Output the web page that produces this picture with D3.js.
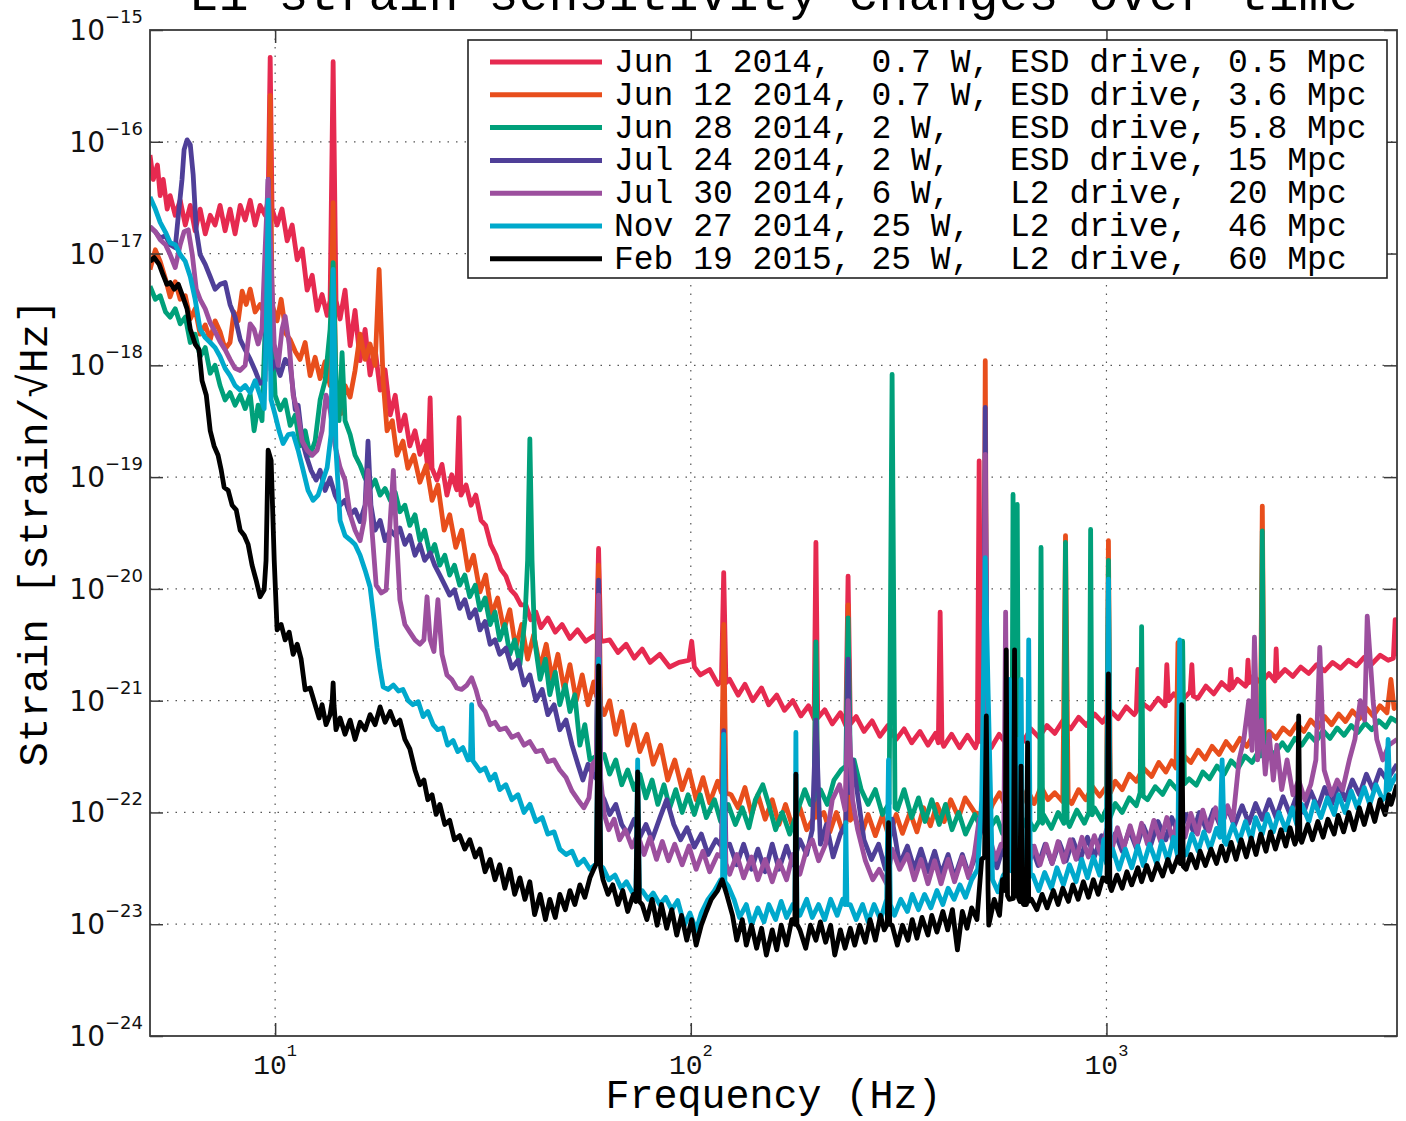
<!DOCTYPE html>
<html>
<head>
<meta charset="utf-8">
<script src="https://cdn.jsdelivr.net/npm/d3@7"></script>
<style>
  body { margin: 0; background: #fff; }
  svg { display: block; }
</style>
</head>
<body>
<div id="chart"></div>
<script>
"use strict";

// ---- tick values ----
var xTicks = [10, 100, 1000];
var xTickExp = ["1", "2", "3"];
var yTicks = [1e-15, 1e-16, 1e-17, 1e-18, 1e-19, 1e-20, 1e-21, 1e-22, 1e-23, 1e-24];
var yTickExp = ["\u221215", "\u221216", "\u221217", "\u221218", "\u221219", "\u221220", "\u221221", "\u221222", "\u221223", "\u221224"];

// ---- legend ----
var seriesLabels = [
  "Jun 1 2014,  0.7 W, ESD drive, 0.5 Mpc",
  "Jun 12 2014, 0.7 W, ESD drive, 3.6 Mpc",
  "Jun 28 2014, 2 W,   ESD drive, 5.8 Mpc",
  "Jul 24 2014, 2 W,   ESD drive, 15 Mpc",
  "Jul 30 2014, 6 W,   L2 drive,  20 Mpc",
  "Nov 27 2014, 25 W,  L2 drive,  46 Mpc",
  "Feb 19 2015, 25 W,  L2 drive,  60 Mpc"
];
var seriesColors = ["#e62a50", "#e84e1c", "#00a07a", "#4f3f98", "#9c4f9e", "#00a9cc", "#000000"];

// ---- spectra: [frequency Hz, strain/rtHz] ----
var jun01 = [[5.00,7.6e-17],[5.09,4.6e-17],[5.21,6.2e-17],[5.29,3.3e-17],[5.38,4.6e-17],[5.50,2.5e-17],[5.59,3.3e-17],[5.75,2.2e-17],[5.91,3.0e-17],[6.08,1.8e-17],[6.25,2.7e-17],[6.42,1.6e-17],[6.60,2.5e-17],[6.79,1.5e-17],[6.98,2.2e-17],[7.17,1.8e-17],[7.37,2.7e-17],[7.58,1.6e-17],[7.79,2.5e-17],[8.01,1.5e-17],[8.24,2.7e-17],[8.47,2.0e-17],[8.71,3.0e-17],[8.95,1.8e-17],[9.20,2.7e-17],[9.46,2.2e-17],[9.62,3.0e-17],[9.73,5.7e-16],[9.83,2.5e-17],[10.11,1.8e-17],[10.39,2.5e-17],[10.69,1.3e-17],[10.99,1.8e-17],[11.30,8.8e-18],[11.62,1.1e-17],[11.94,4.7e-18],[12.28,6.4e-18],[12.62,3.1e-18],[12.97,4.3e-18],[13.34,2.8e-18],[13.56,3.8e-18],[13.79,5.2e-16],[14.01,3.8e-18],[14.33,2.6e-18],[14.73,4.7e-18],[15.15,1.5e-18],[15.57,3.1e-18],[16.01,1.1e-18],[16.46,2.1e-18],[16.92,8.2e-19],[17.40,1.4e-18],[17.89,6.0e-19],[18.39,9.1e-19],[18.92,3.6e-19],[19.45,5.4e-19],[19.96,2.6e-19],[20.52,3.6e-19],[21.09,1.9e-19],[21.7,2.6e-19],[22.3,1.6e-19],[22.9,2.1e-19],[23.3,1.2e-19],[23.6,5.1e-19],[23.85,1.2e-19],[24.5,9.4e-20],[25.2,1.3e-19],[25.9,6.9e-20],[26.6,1.05e-19],[27.35,7.7e-20],[27.7,3.4e-19],[28.0,6.9e-20],[28.8,8.5e-20],[29.6,5.6e-20],[30.4,6.9e-20],[31.3,4.1e-20],[32.1,3.7e-20],[33.0,2.5e-20],[34.0,2.0e-20],[34.9,1.5e-20],[35.9,1.3e-20],[36.9,9.8e-21],[37.9,8.8e-21],[39.0,7.2e-21],[40.1,7.2e-21],[41.2,5.3e-21],[42.4,6.2e-21],[43.6,4.5e-21],[45.3,5.5e-21],[47.2,4.1e-21],[49.0,4.8e-21],[51.2,3.6e-21],[53.4,4.3e-21],[55.9,3.4e-21],[58.4,3.8e-21],[59.3,3.6e-21],[60.0,2.3e-20],[60.7,3.5e-21],[61.5,3.4e-21],[63.8,3.5e-21],[66.8,2.7e-21],[69.9,3.2e-21],[73.1,2.4e-21],[76.4,2.9e-21],[79.8,2.2e-21],[84.2,2.6e-21],[88.9,2.0e-21],[93.7,2.2e-21],[99,2.3e-21],[100.5,3.4e-21],[102,2.0e-21],[105.4,1.7e-21],[111,1.9e-21],[116.2,1.4e-21],[118.5,1.5e-21],[120,1.4e-20],[121.5,1.45e-21],[124,1.55e-21],[130,1.12e-21],[135,1.4e-21],[141,1.0e-21],[148,1.3e-21],[154,9.2e-22],[161,1.12e-21],[168,8.2e-22],[176,1.0e-21],[184,7.3e-22],[192,9.0e-22],[198,6.9e-22],[200,2.6e-20],[202,7.0e-22],[210,8.3e-22],[219,6.2e-22],[229,7.8e-22],[236,6.0e-22],[239,1.3e-20],[242,6.2e-22],[250,7.2e-22],[261,5.3e-22],[273,6.6e-22],[285,4.8e-22],[298,6.0e-22],[312,4.5e-22],[326,5.6e-22],[340,4.2e-22],[356,5.3e-22],[372,4.0e-22],[388,5.1e-22],[394,4.2e-22],[398,6.2e-21],[402,4.3e-22],[406,3.9e-22],[424,5.0e-22],[443,3.8e-22],[463,4.9e-22],[484,3.8e-22],[489,4.3e-22],[494,1.4e-19],[499,4.3e-22],[506,4.9e-22],[528,3.8e-22],[552,5.0e-22],[577,4.0e-22],[603,5.2e-22],[630,4.3e-22],[658,5.6e-22],[688,4.7e-22],[719,6.0e-22],[751,5.1e-22],[785,6.6e-22],[820,5.6e-22],[857,7.1e-22],[896,6.0e-22],[936,7.6e-22],[978,6.4e-22],[1022,8.1e-22],[1068,6.9e-22],[1116,8.8e-22],[1166,7.5e-22],[1180,8.0e-22],[1190,1.9e-21],[1200,8.4e-22],[1219,9.5e-22],[1274,8.4e-22],[1331,1.05e-21],[1385,9.0e-22],[1397,2.1e-21],[1410,1.0e-21],[1452,1.15e-21],[1517,1.0e-21],[1590,1.2e-21],[1605,2.1e-21],[1618,1.1e-21],[1660,1.05e-21],[1735,1.35e-21],[1812,1.15e-21],[1893,1.45e-21],[1975,1.25e-21],[1990,1.9e-21],[2005,1.3e-21],[2066,1.55e-21],[2160,1.35e-21],[2175,1.4e-21],[2190,2.3e-21],[2205,1.45e-21],[2255,1.65e-21],[2356,1.45e-21],[2461,1.75e-21],[2545,1.5e-21],[2560,2.9e-21],[2575,1.6e-21],[2688,1.9e-21],[2808,1.65e-21],[2934,2.0e-21],[3066,1.75e-21],[3204,2.1e-21],[3348,1.85e-21],[3499,2.2e-21],[3656,1.95e-21],[3821,2.3e-21],[3993,2.05e-21],[4173,2.45e-21],[4360,2.15e-21],[4556,2.55e-21],[4761,2.3e-21],[4900,2.4e-21],[4950,5.3e-21],[5000,2.5e-21]];

var jun12 = [[5.00,7.2e-18],[5.15,1.08e-17],[5.29,8.5e-18],[5.45,5.9e-18],[5.59,4.1e-18],[5.75,5.6e-18],[5.91,3.9e-18],[6.08,4.2e-18],[6.25,2.6e-18],[6.42,3.2e-18],[6.60,1.9e-18],[6.79,2.3e-18],[6.98,1.7e-18],[7.17,2.5e-18],[7.37,2.0e-18],[7.58,1.4e-18],[7.79,1.6e-18],[7.96,3.0e-18],[8.15,2.5e-18],[8.33,4.6e-18],[8.52,3.5e-18],[8.71,4.8e-18],[8.95,3.0e-18],[9.20,3.5e-18],[9.46,2.85e-18],[9.62,4.8e-18],[9.73,2.6e-16],[9.83,3.5e-18],[10.11,2.5e-18],[10.34,3.9e-18],[10.63,1.9e-18],[10.87,1.7e-18],[11.18,1.33e-18],[11.48,1.13e-18],[11.81,1.6e-18],[12.14,8.1e-19],[12.48,1.18e-18],[12.83,7.6e-19],[13.19,1.08e-18],[13.56,6.6e-19],[13.79,2.85e-17],[14.01,4.9e-19],[14.41,3.7e-19],[14.73,6.6e-19],[15.15,5.2e-19],[15.57,9.0e-19],[16.01,1.9e-18],[16.46,1.13e-18],[16.92,1.55e-18],[17.40,1.0e-18],[17.79,7.2e-18],[18.19,7.3e-19],[18.59,2.6e-19],[19.14,3.2e-19],[19.63,1.57e-19],[20.30,2.1e-19],[20.86,1.2e-19],[21.57,1.57e-19],[22.3,9.0e-20],[23.1,1.28e-19],[23.85,6.2e-20],[24.64,8.5e-20],[25.5,3.35e-20],[26.3,4.6e-20],[27.2,2.35e-20],[28.1,3.35e-20],[29.1,1.47e-20],[30.0,2.0e-20],[31.1,9.4e-21],[32.1,1.33e-20],[33.2,5.9e-21],[34.3,8.3e-21],[35.5,4.3e-21],[36.7,6.5e-21],[37.9,2.95e-21],[39.2,4.8e-21],[40.5,2.35e-21],[41.9,3.9e-21],[43.4,1.95e-21],[44.9,3.2e-21],[46.4,1.55e-21],[47.9,2.6e-21],[49.6,1.25e-21],[51.2,2.1e-21],[53.0,1.0e-21],[54.8,1.7e-21],[56.6,9.2e-22],[58.4,1.47e-21],[59.3,1.1e-21],[60.0,1.63e-20],[60.7,9.0e-22],[61.9,7.5e-22],[63.8,1.0e-21],[66.0,5.0e-22],[68.2,8.0e-22],[70.5,4.0e-22],[73.1,6.1e-22],[75.4,3.5e-22],[78.4,5.0e-22],[81.2,2.7e-22],[84.6,4.0e-22],[88.0,1.95e-22],[91.5,2.95e-22],[95.3,1.6e-22],[99.0,2.4e-22],[103,1.3e-22],[107,2.05e-22],[111,1.22e-22],[116,1.9e-22],[118.5,1.5e-22],[120,4.8e-21],[121.5,1.5e-22],[125,1.44e-22],[130,1.1e-22],[135,1.67e-22],[140,9.6e-23],[145,1.44e-22],[151,8.7e-23],[157,1.3e-22],[163,7.8e-23],[169,1.18e-22],[176,7.3e-23],[183,1.1e-22],[190,7.0e-23],[198,9.0e-23],[200,2.85e-21],[202,9.0e-23],[209,1.0e-22],[216,6.7e-23],[224,1.0e-22],[232,6.7e-23],[236,8.0e-23],[239,7.2e-21],[242,8.5e-23],[247,9.6e-23],[257,6.2e-23],[267,9.6e-23],[278,6.2e-23],[289,9.4e-23],[300,6.0e-23],[312,9.6e-23],[323,6.5e-23],[337,1.0e-22],[350,6.7e-23],[363,1.1e-22],[377,7.6e-23],[391,1.18e-22],[407,8.3e-23],[422,1.3e-22],[441,9.0e-23],[457,1.35e-22],[482,1.0e-22],[505,9.5e-23],[511,1.1e-18],[517,9.0e-23],[532,1.18e-22],[553,1.5e-22],[574,1.1e-22],[596,1.5e-22],[620,1.1e-22],[645,1.6e-22],[670,1.2e-22],[696,1.7e-22],[723,1.3e-22],[751,1.5e-22],[785,1.25e-22],[797,3.0e-20],[809,1.3e-22],[825,1.2e-22],[857,1.6e-22],[891,1.3e-22],[926,1.7e-22],[963,1.4e-22],[1000,1.7e-22],[1011,2.7e-20],[1022,1.5e-22],[1050,1.9e-22],[1091,1.6e-22],[1135,2.2e-22],[1180,1.9e-22],[1226,2.5e-22],[1285,2.1e-22],[1336,2.8e-22],[1390,2.3e-22],[1436,2.9e-22],[1470,2.5e-22],[1486,3.3e-21],[1502,2.6e-22],[1538,3.2e-22],[1596,2.8e-22],[1662,3.6e-22],[1727,3.0e-22],[1795,3.9e-22],[1866,3.3e-22],[1940,4.3e-22],[2015,3.6e-22],[2095,4.6e-22],[2176,3.9e-22],[2262,5.0e-22],[2345,4.2e-22],[2371,5.5e-20],[2397,4.4e-22],[2463,5.3e-22],[2559,4.6e-22],[2660,5.7e-22],[2765,5.0e-22],[2872,6.2e-22],[2985,5.3e-22],[3100,6.7e-22],[3225,5.7e-22],[3350,7.2e-22],[3480,6.1e-22],[3620,7.6e-22],[3760,6.5e-22],[3905,8.1e-22],[4060,6.9e-22],[4220,8.6e-22],[4380,7.3e-22],[4550,9.0e-22],[4730,7.8e-22],[4835,1.55e-21],[4920,8.5e-22],[5000,9.4e-22]];

var jun28 = [[5.00,5.1e-18],[5.15,3.9e-18],[5.29,4.2e-18],[5.45,3.0e-18],[5.59,2.7e-18],[5.75,3.2e-18],[5.91,2.35e-18],[6.08,2.7e-18],[6.25,1.6e-18],[6.42,1.9e-18],[6.60,1.2e-18],[6.79,1.44e-18],[6.98,8.5e-19],[7.17,1.0e-18],[7.37,6.6e-19],[7.58,4.9e-19],[7.79,5.7e-19],[8.01,4.4e-19],[8.24,5.4e-19],[8.47,4.1e-19],[8.71,5.5e-19],[8.90,2.6e-19],[9.10,4.4e-19],[9.30,3.2e-19],[9.51,3.9e-18],[9.62,1.63e-17],[9.78,3.2e-18],[10.0,5.4e-19],[10.28,4.0e-19],[10.57,4.9e-19],[10.87,2.9e-19],[11.18,3.6e-19],[11.48,1.9e-19],[11.81,2.6e-19],[12.14,1.57e-19],[12.48,2.1e-19],[12.83,4.9e-19],[13.19,7.3e-19],[13.56,2.1e-18],[13.79,8.3e-18],[14.01,7.3e-19],[14.25,3.2e-19],[14.49,1.3e-18],[14.73,3.2e-19],[15.15,2.4e-19],[15.57,1.57e-19],[16.01,1.28e-19],[16.46,9.8e-20],[16.92,7.9e-20],[17.40,9.4e-20],[17.89,6.9e-20],[18.39,7.9e-20],[18.92,6.2e-20],[19.45,7.3e-20],[19.96,4.9e-20],[20.52,5.6e-20],[21.09,3.7e-20],[21.7,4.6e-20],[22.3,2.7e-20],[22.9,3.35e-20],[23.6,2.0e-20],[24.2,2.5e-20],[24.9,1.63e-20],[25.6,2.0e-20],[26.3,1.33e-20],[27.0,1.63e-20],[27.8,1.08e-20],[28.6,1.33e-20],[29.4,8.5e-21],[30.3,1.08e-20],[31.1,6.5e-21],[32.0,8.3e-21],[32.9,4.8e-21],[33.8,6.2e-21],[34.7,3.5e-21],[35.7,4.8e-21],[36.7,2.6e-21],[37.7,3.5e-21],[38.8,2.1e-21],[39.9,5.3e-21],[40.5,1.8e-20],[41.0,2.2e-19],[41.5,1.8e-20],[42.1,3.5e-21],[43.4,1.55e-21],[44.7,2.35e-21],[45.8,1.13e-21],[47.2,1.8e-21],[48.4,9.2e-22],[49.9,1.38e-21],[51.2,8.0e-22],[52.6,1.13e-21],[54.1,4.0e-22],[55.6,6.1e-22],[57.2,2.95e-22],[59.3,3.2e-22],[60.0,6.5e-21],[60.7,3.2e-22],[61.9,3.3e-22],[63.8,2.2e-22],[66.0,2.95e-22],[68.2,1.77e-22],[70.5,2.4e-22],[73.1,1.6e-22],[75.4,2.2e-22],[78.0,1.35e-22],[80.7,1.95e-22],[83.3,1.18e-22],[86.2,1.77e-22],[89.0,1.1e-22],[92.0,1.6e-22],[95.3,1.0e-22],[98.5,1.44e-22],[102,9.6e-23],[105.4,1.44e-22],[109,9.0e-23],[114,1.3e-22],[118,8.3e-23],[123,1.18e-22],[128,7.8e-23],[133,1.1e-22],[138,7.3e-23],[143,1.3e-22],[149,1.77e-22],[154,1.18e-22],[160,7.0e-23],[166,1.0e-22],[173,6.4e-23],[180,1.0e-22],[188,1.6e-22],[194,1.18e-22],[198,1.3e-22],[200,3.35e-21],[202,1.4e-22],[205,1.6e-22],[213,1.18e-22],[221,1.95e-22],[230,2.4e-22],[236,2.6e-22],[239,5.5e-21],[242,2.7e-22],[247,2.95e-22],[257,1.6e-22],[267,1.18e-22],[278,1.6e-22],[289,9.6e-23],[300,1.2e-22],[305,8.3e-19],[310,1.1e-22],[314,1.06e-22],[326,1.6e-22],[340,9.0e-23],[353,1.35e-22],[366,8.3e-23],[380,1.3e-22],[396,7.8e-23],[410,1.18e-22],[425,7.0e-23],[441,1.0e-22],[458,6.4e-23],[482,9.6e-23],[501,7.0e-23],[506,8.0e-23],[511,1.15e-19],[516,8.5e-23],[521,7.0e-23],[545,9.0e-23],[562,6.5e-23],[584,8.5e-23],[592,7.0e-23],[596,7.0e-20],[601,8.0e-23],[606,7.5e-23],[610,5.7e-20],[615,7.0e-23],[620,6.8e-23],[645,9.0e-23],[670,7.0e-23],[690,8.5e-23],[696,2.35e-20],[702,8.0e-23],[706,9.5e-23],[737,7.2e-23],[765,1.0e-22],[790,8.0e-23],[797,2.6e-20],[804,8.5e-23],[815,7.5e-23],[849,1.05e-22],[885,8.0e-23],[908,1.0e-22],[916,3.4e-20],[924,9.5e-23],[935,1.1e-22],[974,8.5e-23],[1002,1.1e-22],[1011,1.8e-20],[1020,9.0e-23],[1050,1.2e-22],[1091,1.0e-22],[1135,1.35e-22],[1180,1.15e-22],[1205,1.5e-22],[1215,4.6e-21],[1225,1.4e-22],[1255,1.3e-22],[1310,1.7e-22],[1365,1.45e-22],[1420,1.9e-22],[1480,1.6e-22],[1510,1.7e-22],[1525,3.4e-21],[1540,1.8e-22],[1580,2.0e-22],[1645,1.75e-22],[1705,2.3e-22],[1770,2.0e-22],[1845,2.6e-22],[1920,2.2e-22],[1995,2.9e-22],[2075,2.5e-22],[2155,3.2e-22],[2240,2.8e-22],[2320,3.5e-22],[2350,3.2e-22],[2371,3.3e-20],[2395,3.3e-22],[2440,3.8e-22],[2530,3.3e-22],[2650,4.2e-22],[2730,3.6e-22],[2840,4.6e-22],[2950,4.0e-22],[3070,5.0e-22],[3190,4.3e-22],[3320,5.4e-22],[3450,4.6e-22],[3590,5.7e-22],[3730,4.9e-22],[3880,6.0e-22],[4030,5.2e-22],[4190,6.3e-22],[4350,5.5e-22],[4520,6.6e-22],[4700,5.8e-22],[4840,7.0e-22],[5000,6.5e-22]];

var jul24 = [[5.00,1.74e-17],[5.15,1.57e-17],[5.29,1.38e-17],[5.45,1.44e-17],[5.59,1.2e-17],[5.75,1.13e-17],[5.85,2.2e-17],[5.97,4.6e-17],[6.04,8.5e-17],[6.14,1.04e-16],[6.25,9.4e-17],[6.35,5.1e-17],[6.46,1.63e-17],[6.60,9.8e-18],[6.79,8.0e-18],[6.98,6.2e-18],[7.17,4.8e-18],[7.37,5.3e-18],[7.58,5.5e-18],[7.79,3.5e-18],[8.01,2.7e-18],[8.24,1.7e-18],[8.47,1.38e-18],[8.71,1.13e-18],[8.95,9.0e-19],[9.20,6.9e-19],[9.46,7.3e-19],[9.62,4.6e-17],[9.78,9.0e-19],[10.0,1.08e-18],[10.28,8.1e-19],[10.57,1.13e-18],[10.87,1.0e-18],[11.18,4.0e-19],[11.36,4.4e-19],[11.62,2.1e-19],[11.87,1.57e-19],[12.2,1.15e-19],[12.55,9.4e-20],[12.83,1.15e-19],[13.19,7.6e-20],[13.56,9.8e-20],[13.94,6.9e-20],[14.33,5.6e-20],[14.73,6.2e-20],[15.15,4.6e-20],[15.57,5.1e-20],[16.01,4.0e-20],[16.46,5.6e-20],[16.73,2.1e-19],[17.0,5.6e-20],[17.40,3.35e-20],[17.89,4.1e-20],[18.39,2.7e-20],[18.92,3.35e-20],[19.45,3.0e-20],[19.96,3.5e-20],[20.52,2.5e-20],[21.09,3.0e-20],[21.7,2.0e-20],[22.3,2.5e-20],[22.9,1.8e-20],[23.6,2.1e-20],[24.2,1.63e-20],[24.9,1.33e-20],[25.6,1.08e-20],[26.3,8.8e-21],[27.0,9.8e-21],[27.8,6.7e-21],[28.6,8.0e-21],[29.4,5.5e-21],[30.3,6.5e-21],[31.1,4.3e-21],[32.0,5.1e-21],[32.9,3.2e-21],[33.8,3.5e-21],[34.7,2.6e-21],[35.9,2.95e-21],[37.1,1.95e-21],[38.4,2.3e-21],[39.7,1.38e-21],[41.0,1.7e-21],[42.4,1.0e-21],[43.9,1.26e-21],[45.3,7.5e-22],[46.9,9.2e-22],[48.4,5.5e-22],[50.1,6.7e-22],[51.8,4.0e-22],[53.5,2.7e-22],[55.0,1.95e-22],[56.6,2.7e-22],[58.0,2.2e-22],[59.3,2.0e-22],[60.0,1.2e-20],[60.7,1.5e-22],[61.9,1.3e-22],[63.8,9.6e-23],[66.0,1.18e-22],[68.2,7.8e-23],[70.5,6.4e-23],[73.1,8.7e-23],[75.4,6.0e-23],[78.0,7.8e-23],[80.7,5.7e-23],[84.2,8.9e-23],[87.5,1.3e-22],[91.0,7.8e-23],[94.5,5.7e-23],[98.0,7.3e-23],[102,4.9e-23],[106,6.4e-23],[110,4.2e-23],[115,5.7e-23],[118.5,5.0e-23],[120,5.4e-22],[121.5,5.0e-23],[124,5.2e-23],[129,3.4e-23],[134,5.2e-23],[140,3.1e-23],[145,4.7e-23],[151,2.95e-23],[157,5.2e-23],[163,3.1e-23],[170,5.0e-23],[176,3.4e-23],[183,5.7e-23],[190,4.2e-23],[196,7.0e-23],[200,6.7e-22],[205,5.2e-23],[212,7.8e-23],[220,4.0e-23],[229,6.4e-23],[236,8.0e-23],[239,2.35e-21],[242,1.5e-22],[245,2.95e-22],[251,1.6e-22],[261,5.7e-23],[272,3.8e-23],[283,5.2e-23],[294,3.1e-23],[305,8.7e-23],[318,3.4e-23],[332,5.0e-23],[345,3.1e-23],[358,4.7e-23],[372,2.95e-23],[386,4.5e-23],[400,2.8e-23],[416,4.2e-23],[431,2.6e-23],[450,4.2e-23],[466,2.8e-23],[481,3.8e-23],[492,5.7e-23],[505,8.0e-23],[511,4.2e-19],[517,7.0e-23],[521,5.2e-23],[545,3.2e-23],[562,4.7e-23],[587,3.1e-23],[610,5.2e-23],[635,3.2e-23],[660,5.0e-23],[685,3.35e-23],[712,5.2e-23],[740,3.5e-23],[770,5.4e-23],[800,3.7e-23],[830,5.7e-23],[865,3.8e-23],[900,6.0e-23],[935,4.0e-23],[974,6.2e-23],[1011,4.1e-23],[1050,6.5e-23],[1091,4.5e-23],[1135,7.0e-23],[1180,4.8e-23],[1226,7.6e-23],[1280,5.2e-23],[1330,8.3e-23],[1390,5.7e-23],[1436,9.0e-23],[1495,6.2e-23],[1555,9.6e-23],[1620,6.7e-23],[1673,1.0e-22],[1740,7.0e-23],[1810,1.06e-22],[1885,7.3e-23],[1955,1.1e-22],[2030,7.6e-23],[2120,1.15e-22],[2200,8.0e-23],[2285,1.2e-22],[2371,8.7e-23],[2463,1.3e-22],[2559,9.0e-23],[2660,1.38e-22],[2765,9.6e-23],[2872,1.44e-22],[2985,1.0e-22],[3100,1.55e-22],[3225,1.1e-22],[3350,1.67e-22],[3480,1.18e-22],[3620,1.77e-22],[3760,1.3e-22],[3905,1.95e-22],[4060,1.44e-22],[4220,2.2e-22],[4380,1.6e-22],[4550,2.4e-22],[4730,1.95e-22],[5000,2.7e-22]];

var jul30 = [[5.00,1.74e-17],[5.15,1.57e-17],[5.29,1.33e-17],[5.45,1.2e-17],[5.59,9.8e-18],[5.75,7.5e-18],[5.91,1.2e-17],[6.04,1.57e-17],[6.18,1.63e-17],[6.32,9.8e-18],[6.46,4.8e-18],[6.60,3.9e-18],[6.79,3.2e-18],[6.98,2.4e-18],[7.17,2.0e-18],[7.37,1.63e-18],[7.58,1.38e-18],[7.79,1.13e-18],[8.01,9.4e-19],[8.24,9.0e-19],[8.47,1.0e-18],[8.71,2.35e-18],[8.90,2.1e-18],[9.10,1.55e-18],[9.30,2.1e-18],[9.46,1.08e-17],[9.62,4.6e-17],[9.78,8.8e-18],[9.95,1.55e-18],[10.17,1.0e-18],[10.39,2.1e-18],[10.57,2.75e-18],[10.81,1.55e-18],[11.05,5.4e-19],[11.30,4.0e-19],[11.62,2.1e-19],[11.94,1.74e-19],[12.28,1.57e-19],[12.62,1.74e-19],[12.97,2.6e-19],[13.26,5.4e-19],[13.56,4.0e-19],[13.94,1.9e-19],[14.33,1.22e-19],[14.73,9.4e-20],[15.15,4.6e-20],[15.57,3.35e-20],[16.01,2.7e-20],[16.37,4.1e-20],[16.73,1.15e-19],[17.1,3.35e-20],[17.5,1.08e-20],[18.0,9.2e-21],[18.5,9.8e-21],[18.92,4.1e-20],[19.25,1.15e-19],[19.55,3.35e-20],[19.96,8.0e-21],[20.52,4.8e-21],[21.09,4.1e-21],[21.7,3.5e-21],[22.3,3.2e-21],[22.8,3.5e-21],[23.2,8.5e-21],[23.6,3.5e-21],[24.1,2.75e-21],[24.64,8.0e-21],[25.2,2.6e-21],[25.9,1.7e-21],[26.6,1.55e-21],[27.35,1.3e-21],[28.1,1.26e-21],[28.94,1.38e-21],[29.7,1.6e-21],[30.4,1.26e-21],[31.1,9.2e-22],[32.0,8.0e-22],[32.9,6.1e-22],[33.8,6.4e-22],[34.7,5.5e-22],[35.9,5.7e-22],[37.1,4.7e-22],[38.4,5.0e-22],[39.7,4.0e-22],[41.0,4.3e-22],[42.4,3.5e-22],[43.9,3.6e-22],[45.3,2.85e-22],[46.9,2.95e-22],[48.4,2.4e-22],[50.1,2.05e-22],[51.8,1.55e-22],[53.5,1.3e-22],[55.3,1.1e-22],[56.9,1.35e-22],[58.0,2.7e-22],[59.3,3.0e-22],[60.0,8.8e-21],[60.7,2.0e-22],[61.9,9.6e-23],[63.5,7.0e-23],[65.4,8.7e-23],[67.4,5.7e-23],[69.6,7.0e-23],[72.2,4.9e-23],[74.5,6.4e-23],[77.2,4.2e-23],[79.8,6.0e-23],[82.7,3.8e-23],[85.4,5.5e-23],[88.4,3.7e-23],[91.5,5.2e-23],[95.3,3.4e-23],[99,5.0e-23],[103,3.1e-23],[107,4.5e-23],[111,2.95e-23],[116,4.2e-23],[118.5,4.0e-23],[120,2.4e-22],[121.5,3.5e-23],[124,2.8e-23],[129,4.2e-23],[134,2.6e-23],[140,4.0e-23],[145,2.5e-23],[151,3.8e-23],[157,2.4e-23],[163,3.7e-23],[170,2.5e-23],[176,4.2e-23],[183,2.8e-23],[190,4.7e-23],[196,5.7e-23],[203,3.7e-23],[211,5.2e-23],[219,1.3e-22],[228,1.77e-22],[235,1.06e-22],[239,1.0e-21],[245,1.3e-22],[252,7.0e-23],[263,3.7e-23],[274,2.5e-23],[284,3.1e-23],[296,2.3e-23],[305,4.7e-23],[318,3.1e-23],[332,4.2e-23],[345,2.5e-23],[358,3.8e-23],[372,2.3e-23],[386,3.7e-23],[400,2.3e-23],[416,3.8e-23],[431,2.4e-23],[450,4.0e-23],[466,2.6e-23],[481,4.2e-23],[494,8.7e-23],[505,1.0e-22],[511,1.6e-19],[517,9.0e-23],[521,6.4e-23],[541,3.8e-23],[558,5.2e-23],[566,5.0e-23],[572,6.2e-21],[578,5.0e-23],[587,4.7e-23],[606,3.0e-23],[625,4.8e-23],[646,3.2e-23],[670,5.0e-23],[692,3.4e-23],[716,5.2e-23],[740,3.5e-23],[765,5.5e-23],[790,3.6e-23],[818,5.7e-23],[845,3.8e-23],[873,6.0e-23],[905,4.0e-23],[935,6.2e-23],[968,4.2e-23],[1000,7.0e-23],[1028,4.5e-23],[1063,7.3e-23],[1100,4.8e-23],[1140,7.6e-23],[1180,5.0e-23],[1215,8.0e-23],[1255,5.2e-23],[1300,8.5e-23],[1350,5.5e-23],[1397,9.0e-23],[1440,5.7e-23],[1495,9.4e-23],[1545,6.0e-23],[1596,9.8e-23],[1655,6.4e-23],[1705,1.05e-22],[1765,6.8e-23],[1830,1.1e-22],[1890,7.2e-23],[1955,1.15e-22],[2015,8.5e-23],[2085,2.95e-22],[2140,4.5e-22],[2200,1.0e-21],[2240,3.6e-22],[2270,3.7e-21],[2310,2.95e-22],[2360,6.7e-22],[2410,2.2e-22],[2463,5.0e-22],[2520,1.95e-22],[2570,4.0e-22],[2640,1.6e-22],[2720,2.95e-22],[2810,1.44e-22],[2900,1.95e-22],[3000,1.3e-22],[3100,1.77e-22],[3190,2.95e-22],[3260,3.0e-21],[3340,2.4e-22],[3480,1.44e-22],[3590,1.95e-22],[3700,1.6e-22],[3840,2.95e-22],[3960,4.5e-22],[4080,1.0e-21],[4180,6.7e-22],[4240,5.7e-21],[4380,1.0e-21],[4470,4.5e-22],[4620,2.95e-22],[4780,4.0e-22],[5000,4.5e-22]];

var nov27 = [[5.00,3.2e-17],[5.15,2.5e-17],[5.29,1.9e-17],[5.45,1.55e-17],[5.59,1.25e-17],[5.75,1.2e-17],[5.91,9.8e-18],[6.08,8.5e-18],[6.25,6.2e-18],[6.42,3.9e-18],[6.60,2.1e-18],[6.79,1.77e-18],[6.98,1.6e-18],[7.17,1.44e-18],[7.37,1.2e-18],[7.58,9.4e-19],[7.79,8.1e-19],[8.01,6.6e-19],[8.24,6.0e-19],[8.47,6.6e-19],[8.71,5.7e-19],[8.95,7.3e-19],[9.20,5.4e-19],[9.41,4.1e-19],[9.52,2.0e-18],[9.62,3.0e-17],[9.72,2.0e-18],[9.78,4.9e-19],[10.0,3.6e-19],[10.22,2.6e-19],[10.45,2.0e-19],[10.75,2.4e-19],[11.05,2.45e-19],[11.36,1.74e-19],[11.68,1.15e-19],[12.0,7.6e-20],[12.34,6.2e-20],[12.69,6.9e-20],[13.04,9.4e-20],[13.34,1.22e-19],[13.63,2.4e-19],[13.79,7.2e-18],[14.01,1.74e-19],[14.33,4.1e-20],[14.73,3.0e-20],[15.15,2.75e-20],[15.57,2.5e-20],[16.01,2.0e-20],[16.46,1.47e-20],[16.92,1.04e-20],[17.3,5.3e-21],[17.59,3.0e-21],[17.89,1.9e-21],[18.19,1.33e-21],[18.7,1.26e-21],[19.25,1.38e-21],[19.8,1.22e-21],[20.3,1.26e-21],[20.9,1.0e-21],[21.45,9.2e-22],[22.1,9.8e-22],[22.7,7.2e-22],[23.3,8.0e-22],[24.0,6.1e-22],[24.6,5.5e-22],[25.3,5.7e-22],[26.0,4.0e-22],[26.8,4.4e-22],[27.5,3.5e-22],[28.3,3.8e-22],[29.1,2.95e-22],[29.5,3.0e-22],[29.7,9.2e-22],[29.9,2.9e-22],[30.3,2.7e-22],[31.1,2.35e-22],[32.0,2.5e-22],[32.9,1.95e-22],[33.8,2.2e-22],[34.7,1.6e-22],[35.9,1.77e-22],[37.1,1.3e-22],[38.4,1.44e-22],[39.7,1.0e-22],[41.0,1.18e-22],[42.4,8.3e-23],[43.9,9.0e-23],[45.3,6.4e-23],[46.9,6.7e-23],[48.4,4.7e-23],[50.1,4.2e-23],[51.8,4.5e-23],[53.5,3.4e-23],[55.3,3.8e-23],[57.2,3.1e-23],[59.3,3.5e-23],[60.0,2.35e-21],[60.7,3.3e-23],[61.5,3.2e-23],[63.5,2.5e-23],[65.7,2.75e-23],[68.0,2.1e-23],[70.0,2.4e-23],[72.8,1.85e-23],[73.8,2.0e-23],[74.5,2.95e-22],[75.2,2.0e-23],[76.4,2.0e-23],[79.0,1.67e-23],[81.2,1.9e-23],[84.2,1.5e-23],[87.0,1.74e-23],[90.0,1.35e-23],[93.0,1.63e-23],[96.5,9.8e-24],[99.5,1.26e-23],[103,8.8e-24],[106,1.26e-23],[110,1.67e-23],[114,2.0e-23],[118,2.5e-23],[119.2,2.4e-23],[120,5.0e-22],[120.8,2.4e-23],[123,2.2e-23],[127,1.67e-23],[131,1.15e-23],[136,1.5e-23],[140,9.8e-24],[145,1.4e-23],[150,1.05e-23],[154,1.5e-23],[160,1.1e-23],[165,1.6e-23],[170,1.15e-23],[176,1.5e-23],[178,1.4e-23],[179,5.2e-22],[180,1.4e-23],[183,1.2e-23],[190,1.67e-23],[196,1.15e-23],[203,1.5e-23],[210,1.1e-23],[217,1.67e-23],[225,1.2e-23],[232,1.67e-23],[235,1.5e-23],[236,8.1e-23],[237.5,1.5e-23],[242,1.5e-23],[250,1.1e-23],[259,1.5e-23],[267,1.05e-23],[276,1.5e-23],[286,1.1e-23],[296,1.67e-23],[299,2.95e-22],[302,1.5e-23],[309,1.2e-23],[320,1.67e-23],[332,1.3e-23],[341,1.85e-23],[353,1.35e-23],[365,1.85e-23],[378,1.4e-23],[391,2.0e-23],[404,1.5e-23],[416,2.1e-23],[430,1.67e-23],[444,2.25e-23],[458,1.74e-23],[474,2.5e-23],[490,3.1e-23],[501,1.3e-22],[511,1.9e-20],[519,1.25e-21],[532,2.5e-23],[548,1.95e-23],[565,2.75e-23],[578,3.0e-23],[584,1.55e-21],[590,3.0e-23],[596,3.1e-23],[604,3.2e-23],[612,4.5e-22],[618,3.0e-23],[623,1.55e-21],[629,2.8e-23],[636,2.5e-23],[645,2.8e-23],[650,3.5e-21],[656,2.7e-23],[665,2.75e-23],[687,2.0e-23],[710,2.9e-23],[737,2.1e-23],[760,3.2e-23],[788,2.25e-23],[815,3.4e-23],[845,2.4e-23],[872,3.8e-23],[900,2.6e-23],[930,4.0e-23],[963,2.75e-23],[985,5.7e-23],[1000,3.5e-23],[1011,1.22e-20],[1022,4.0e-23],[1035,4.7e-23],[1072,3.1e-23],[1110,4.7e-23],[1150,3.2e-23],[1190,5.0e-23],[1226,3.35e-23],[1270,5.2e-23],[1320,3.5e-23],[1358,5.5e-23],[1405,3.7e-23],[1450,6.0e-23],[1485,4.0e-23],[1500,3.5e-21],[1515,4.0e-23],[1555,4.2e-23],[1605,6.4e-23],[1662,4.5e-23],[1715,6.7e-23],[1775,4.7e-23],[1840,7.2e-23],[1875,6.0e-23],[1898,2.95e-22],[1920,5.5e-23],[1940,5.2e-23],[2015,7.8e-23],[2085,5.5e-23],[2160,8.3e-23],[2230,5.7e-23],[2285,9.0e-23],[2370,6.4e-23],[2440,9.6e-23],[2520,6.7e-23],[2600,1.0e-22],[2700,7.0e-23],[2800,1.1e-22],[2870,7.8e-23],[2950,1.18e-22],[3070,8.3e-23],[3160,1.25e-22],[3280,9.0e-23],[3400,1.35e-22],[3530,9.6e-23],[3620,1.44e-22],[3750,1.0e-22],[3880,1.55e-22],[4010,1.1e-22],[4170,1.67e-22],[4300,1.18e-22],[4450,1.77e-22],[4620,1.3e-22],[4700,1.4e-22],[4760,4.5e-22],[4800,1.6e-22],[4840,1.77e-22],[5000,2.2e-22]];

var feb19 = [[5.00,8.5e-18],[5.12,9.2e-18],[5.26,8.0e-18],[5.37,6.5e-18],[5.49,5.3e-18],[5.59,5.5e-18],[5.72,4.8e-18],[5.85,5.3e-18],[6.00,4.1e-18],[6.14,3.2e-18],[6.25,2.1e-18],[6.42,1.55e-18],[6.56,1.38e-18],[6.67,7.3e-19],[6.83,5.4e-19],[6.98,2.6e-19],[7.13,1.9e-19],[7.29,1.57e-19],[7.42,1.15e-19],[7.54,8.1e-20],[7.71,7.6e-20],[7.88,5.6e-20],[8.06,5.1e-20],[8.24,3.35e-20],[8.43,3.0e-20],[8.61,2.5e-20],[8.80,1.63e-20],[9.00,1.2e-20],[9.20,8.5e-21],[9.41,9.8e-21],[9.51,1.8e-20],[9.62,1.74e-19],[9.78,1.41e-19],[9.95,1.8e-20],[10.11,4.3e-21],[10.34,4.8e-21],[10.57,3.5e-21],[10.81,4.1e-21],[11.05,2.6e-21],[11.30,3.2e-21],[11.55,2.35e-21],[11.81,1.25e-21],[12.14,1.3e-21],[12.48,9.2e-22],[12.76,7.0e-22],[12.97,9.2e-22],[13.26,6.1e-22],[13.56,7.5e-22],[13.72,1.0e-21],[13.79,1.44e-21],[13.86,9.0e-22],[14.01,5.5e-22],[14.33,7.0e-22],[14.73,5.0e-22],[15.15,6.7e-22],[15.57,4.5e-22],[16.01,6.4e-22],[16.46,5.5e-22],[16.92,7.5e-22],[17.40,6.1e-22],[17.89,8.8e-22],[18.39,6.4e-22],[18.92,8.0e-22],[19.45,6.1e-22],[19.96,6.7e-22],[20.52,4.5e-22],[21.09,3.7e-22],[21.7,2.4e-22],[22.3,1.77e-22],[22.8,1.95e-22],[23.3,1.3e-22],[23.85,1.44e-22],[24.4,9.6e-23],[24.9,1.18e-22],[25.6,7.8e-23],[26.3,8.5e-23],[27.0,5.7e-23],[27.8,6.2e-23],[28.6,4.7e-23],[29.4,5.7e-23],[30.3,4.0e-23],[31.1,4.7e-23],[32.0,2.95e-23],[32.9,3.8e-23],[33.8,2.5e-23],[34.7,3.4e-23],[35.7,2.1e-23],[36.7,3.1e-23],[37.7,1.85e-23],[38.8,2.6e-23],[39.9,1.67e-23],[41.0,2.4e-23],[42.1,1.22e-23],[43.4,1.85e-23],[44.7,1.1e-23],[45.8,1.67e-23],[47.2,1.15e-23],[48.4,1.85e-23],[49.9,1.35e-23],[51.2,2.0e-23],[52.6,1.5e-23],[54.1,2.25e-23],[55.6,1.74e-23],[57.2,2.6e-23],[58.4,3.1e-23],[59.3,3.5e-23],[60.0,2.05e-21],[60.7,3.2e-23],[61.5,2.5e-23],[63.2,1.85e-23],[64.9,2.25e-23],[66.8,1.5e-23],[68.6,2.0e-23],[70.5,1.3e-23],[72.8,1.85e-23],[73.8,1.6e-23],[74.5,2.3e-22],[75.2,1.6e-23],[76.4,1.5e-23],[78.4,1.1e-23],[80.7,1.67e-23],[83.0,9.8e-24],[85.0,1.5e-23],[87.5,9.2e-24],[90.0,1.35e-23],[92.5,8.0e-24],[95.0,1.2e-23],[97.8,7.2e-24],[100.5,1.1e-23],[103,6.5e-24],[106,9.8e-24],[109,1.3e-23],[112,1.67e-23],[116,2.0e-23],[119,2.5e-23],[122,1.85e-23],[126,1.2e-23],[129,7.2e-24],[133,1.1e-23],[136,6.5e-24],[140,9.8e-24],[144,6.1e-24],[148,9.2e-24],[152,5.3e-24],[157,8.9e-24],[161,5.9e-24],[165,9.8e-24],[170,6.5e-24],[175,1.1e-23],[178,1.0e-23],[179,2.2e-22],[180,1.0e-23],[183,8.9e-24],[189,6.1e-24],[194,9.8e-24],[200,7.2e-24],[205,1.05e-23],[211,6.9e-24],[217,9.8e-24],[222,5.3e-24],[229,8.9e-24],[235,6.1e-24],[242,9.2e-24],[248,6.5e-24],[255,9.8e-24],[263,6.9e-24],[270,1.1e-23],[278,7.2e-24],[286,1.2e-23],[292,8.9e-24],[297,1.0e-23],[299,8.1e-23],[301,1.0e-23],[305,9.8e-24],[314,6.5e-24],[323,9.8e-24],[333,7.2e-24],[341,1.1e-23],[350,7.5e-24],[360,1.15e-23],[372,8.0e-24],[380,1.2e-23],[391,8.5e-24],[404,1.3e-23],[415,8.9e-24],[426,1.35e-23],[438,5.9e-24],[450,1.3e-23],[462,9.2e-24],[474,1.4e-23],[488,1.1e-23],[501,3.8e-23],[509,4.0e-23],[514,7.3e-22],[519,2.0e-23],[521,9.8e-24],[537,1.67e-23],[553,1.2e-23],[562,2.5e-23],[570,2.0e-23],[574,2.85e-21],[578,1.8e-23],[584,1.67e-23],[597,1.7e-23],[601,2.85e-21],[605,1.8e-23],[610,1.85e-23],[619,1.6e-23],[623,2.6e-22],[627,1.6e-23],[632,1.5e-23],[642,1.5e-23],[646,4.2e-22],[650,1.6e-23],[660,1.67e-23],[680,1.35e-23],[700,1.85e-23],[720,1.4e-23],[745,2.0e-23],[765,1.5e-23],[785,2.1e-23],[810,1.6e-23],[830,2.25e-23],[855,1.67e-23],[880,2.4e-23],[905,1.74e-23],[930,2.5e-23],[955,1.85e-23],[980,2.6e-23],[1003,2.4e-23],[1011,1.74e-21],[1019,2.2e-23],[1028,2.0e-23],[1060,2.75e-23],[1091,2.1e-23],[1120,2.95e-23],[1150,2.25e-23],[1190,3.2e-23],[1215,2.4e-23],[1250,3.35e-23],[1285,2.5e-23],[1325,3.5e-23],[1365,2.7e-23],[1405,3.8e-23],[1440,2.95e-23],[1486,4.0e-23],[1505,3.5e-23],[1517,9.2e-22],[1530,3.3e-23],[1555,3.1e-23],[1596,4.2e-23],[1645,3.2e-23],[1680,4.5e-23],[1730,3.35e-23],[1785,4.7e-23],[1840,3.5e-23],[1890,5.0e-23],[1940,3.7e-23],[1995,5.4e-23],[2050,3.8e-23],[2110,5.7e-23],[2170,4.0e-23],[2230,5.9e-23],[2290,4.2e-23],[2350,6.4e-23],[2420,4.5e-23],[2480,6.7e-23],[2550,4.7e-23],[2630,7.0e-23],[2700,5.0e-23],[2765,7.3e-23],[2840,5.2e-23],[2880,6.0e-23],[2900,7.3e-22],[2920,6.0e-23],[2950,5.4e-23],[3050,7.8e-23],[3130,5.7e-23],[3225,8.3e-23],[3320,6.0e-23],[3410,8.7e-23],[3530,6.4e-23],[3610,9.4e-23],[3720,6.7e-23],[3830,1.0e-22],[3940,7.0e-23],[4060,1.1e-22],[4170,7.8e-23],[4300,1.18e-22],[4420,8.3e-23],[4550,1.3e-22],[4680,9.6e-23],[4780,1.44e-22],[4840,1.18e-22],[5000,1.77e-22]];

var seriesData = [jun01, jun12, jun28, jul24, jul30, nov27, feb19];

// ---- layout ----
var svgWidth = 1406, svgHeight = 1121;
var margin = { left: 150, right: 9, top: 30, bottom: 85 };
var width = svgWidth - margin.left - margin.right;
var height = svgHeight - margin.top - margin.bottom;
var monoFont = "'Courier New', Courier, 'Liberation Mono', monospace";
var axisColor = "#3a3a3a";

var svg = d3.select("#chart").append("svg")
    .attr("width", svgWidth)
    .attr("height", svgHeight);

var g = svg.append("g")
    .attr("transform", "translate(" + margin.left + "," + margin.top + ")");

var x = d3.scaleLog().domain([5, 5000]).range([0, width]);
var y = d3.scaleLog().domain([1e-24, 1e-15]).range([height, 0]);

g.append("clipPath").attr("id", "plotClip")
  .append("rect").attr("width", width).attr("height", height);

// dotted grid at the decades
var grid = g.append("g").attr("class", "grid");
grid.selectAll("line.gx").data(xTicks).enter().append("line")
    .attr("class", "gx")
    .attr("x1", function (d) { return x(d); })
    .attr("x2", function (d) { return x(d); })
    .attr("y1", 0).attr("y2", height);
grid.selectAll("line.gy").data(yTicks.slice(1, -1)).enter().append("line")
    .attr("class", "gy")
    .attr("x1", 0).attr("x2", width)
    .attr("y1", function (d) { return y(d); })
    .attr("y2", function (d) { return y(d); });
grid.selectAll("line")
  .attr("stroke", "#555")
  .attr("stroke-width", 1.2)
  .attr("stroke-dasharray", "1.5,7");

// spectra, earliest first so later ones sit on top
var line = d3.line()
  .x(function (d) { return x(d[0]); })
  .y(function (d) { return y(d[1]); });

g.append("g").attr("clip-path", "url(#plotClip)")
  .selectAll("path").data(seriesData).enter().append("path")
    .attr("d", line)
    .attr("fill", "none")
    .attr("stroke", function (d, i) { return seriesColors[i]; })
    .attr("stroke-width", 4.8)
    .attr("stroke-linejoin", "round");

// axes: ticks pointing inwards on all four sides
var tickLen = 13;
var xAxisB = d3.axisBottom(x).tickValues(xTicks).tickSize(-tickLen).tickFormat("");
var xAxisT = d3.axisTop(x).tickValues(xTicks).tickSize(-tickLen).tickFormat("");
var yAxisL = d3.axisLeft(y).tickValues(yTicks).tickSize(-tickLen).tickFormat("");
var yAxisR = d3.axisRight(y).tickValues(yTicks).tickSize(-tickLen).tickFormat("");

g.append("g").attr("transform", "translate(0," + height + ")").call(xAxisB);
g.append("g").call(xAxisT);
g.append("g").call(yAxisL);
g.append("g").attr("transform", "translate(" + width + ",0)").call(yAxisR);
g.selectAll(".domain").remove();
g.selectAll(".tick line").attr("stroke", axisColor).attr("stroke-width", 1.5);

g.append("rect")
  .attr("width", width).attr("height", height)
  .attr("fill", "none")
  .attr("stroke", axisColor)
  .attr("stroke-width", 1.8);

// tick labels with superscript exponents
var xLab = g.append("g").selectAll("text").data(xTicks).enter().append("text")
  .attr("x", function (d) { return x(d); })
  .attr("y", height + 38)
  .attr("text-anchor", "middle")
  .attr("font-family", monoFont)
  .attr("font-size", 28)
  .attr("fill", "#111");
xLab.append("tspan").text("10");
xLab.append("tspan").attr("dy", -18).attr("font-size", 17).text(function (d, i) { return xTickExp[i]; });

var yLab = g.append("g").selectAll("text").data(yTicks).enter().append("text")
  .attr("x", -7)
  .attr("y", function (d) { return y(d) + 10; })
  .attr("text-anchor", "end")
  .attr("font-family", "'DejaVu Sans', sans-serif")
  .attr("font-size", 28)
  .attr("fill", "#111");
yLab.append("tspan").text("10");
yLab.append("tspan").attr("dy", -17).attr("font-size", 18).text(function (d, i) { return yTickExp[i]; });

// titles (the top one is cropped by the frame, as in the source)
svg.append("text")
  .attr("x", margin.left + width / 2).attr("y", 10)
  .attr("text-anchor", "middle")
  .attr("font-family", monoFont).attr("font-size", 50)
  .text("L1 strain sensitivity changes over time");

svg.append("text")
  .attr("x", margin.left + width / 2).attr("y", 1108)
  .attr("text-anchor", "middle")
  .attr("font-family", monoFont).attr("font-size", 40)
  .text("Frequency (Hz)");

svg.append("text")
  .attr("transform", "translate(47," + (margin.top + height / 2) + ") rotate(-90)")
  .attr("text-anchor", "middle")
  .attr("font-family", monoFont).attr("font-size", 41)
  .text("Strain [strain/\u221AHz]");

// legend
var legend = g.append("g").attr("transform", "translate(318,10)");
legend.append("rect")
  .attr("width", 919).attr("height", 238)
  .attr("fill", "#fff")
  .attr("stroke", "#222")
  .attr("stroke-width", 1.6);

var rows = legend.selectAll("g.row").data(seriesLabels).enter().append("g")
  .attr("class", "row")
  .attr("transform", function (d, i) { return "translate(0," + (22 + i * 32.8) + ")"; });
rows.append("line")
  .attr("x1", 22).attr("x2", 134)
  .attr("stroke", function (d, i) { return seriesColors[i]; })
  .attr("stroke-width", 5);
rows.append("text")
  .attr("x", 146).attr("y", 10)
  .attr("font-family", monoFont).attr("font-size", 33)
  .attr("xml:space", "preserve")
  .style("white-space", "pre")
  .text(function (d) { return d; });
</script>
</body>
</html>
